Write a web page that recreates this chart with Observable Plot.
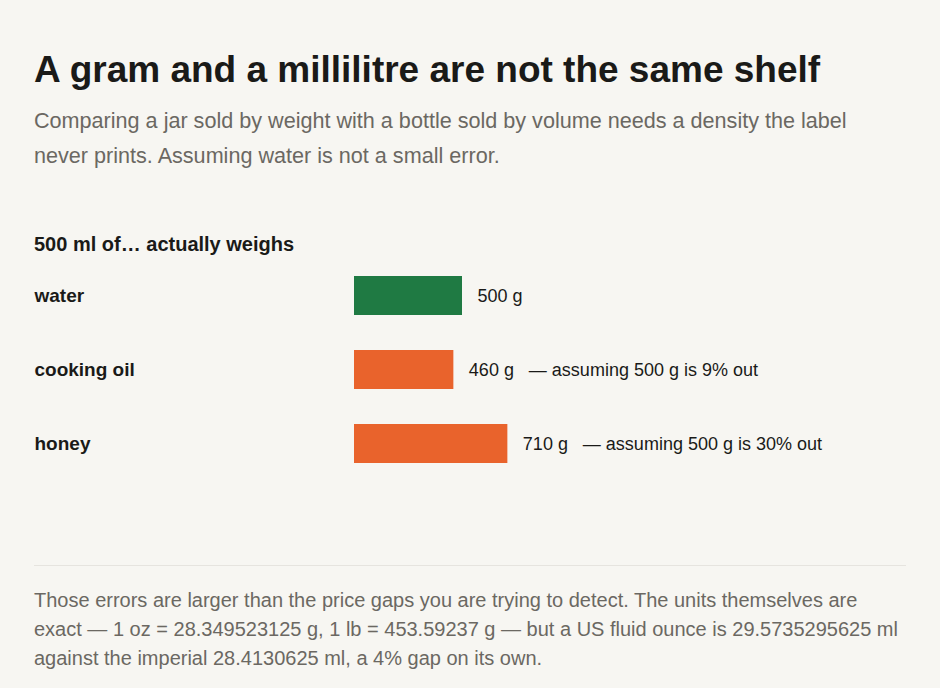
<!DOCTYPE html>
<html>
<head>
<meta charset="utf-8">
<script src="https://cdn.jsdelivr.net/npm/d3@7"></script>
<script src="https://cdn.jsdelivr.net/npm/@observablehq/plot@0.6"></script>
<style>
  html, body { margin: 0; padding: 0; background: #f7f6f2; }
  body { font-family: "Liberation Sans", Arial, Helvetica, sans-serif; width: 940px; height: 688px; overflow: hidden; }
  .wrap { position: relative; padding: 48px 34px 0 34px; width: 872px; }
  h1 { margin: 0; font-size: 37px; line-height: 44px; font-weight: bold; color: #1a1a18; }
  .sub { margin: 11px 0 0 0; font-size: 21.6px; line-height: 35px; color: #6b6862; }
  .head { margin: 59px 0 0 0; font-size: 20px; line-height: 24px; font-weight: bold; color: #1a1a18; }
  #chart { margin-top: 0; height: 290px; }
  #chart svg { display: block; overflow: visible; }
  hr { border: 0; border-top: 1px solid #e6e4df; margin: 19px 0 0 0; height: 0; }
  .foot { margin: 20px 0 0 0; font-size: 20px; line-height: 29px; color: #6b6862; }
</style>
</head>
<body>
<div class="wrap">
  <h1>A gram and a millilitre are not the same shelf</h1>
  <p class="sub">Comparing a jar sold by weight with a bottle sold by volume needs a density the label never prints. Assuming water is not a small error.</p>
  <div class="head">500 ml of… actually weighs</div>
  <div id="chart"></div>
  <hr>
  <p class="foot">Those errors are larger than the price gaps you are trying to detect. The units themselves are exact — 1 oz = 28.349523125 g, 1 lb = 453.59237 g — but a US fluid ounce is 29.5735295625 ml against the imperial 28.4130625 ml, a 4% gap on its own.</p>
</div>
<script>
const liquids = ["water", "cooking oil", "honey"];
const grams = [500, 460, 710];
const errorPct = [null, 9, 30];
const isReference = [true, false, false];

const rows = liquids.map((name, i) => ({
  name,
  grams: grams[i],
  err: errorPct[i],
  kind: isReference[i] ? "ref" : "other"
}));

const chart = Plot.plot({
  width: 872,
  height: 290,
  marginLeft: 320,
  marginRight: 0,
  marginTop: 0,
  marginBottom: 0,
  style: { background: "transparent", fontFamily: '"Liberation Sans", Arial, sans-serif', overflow: "visible" },
  x: { domain: [0, 1000], range: [320, 536], axis: null },
  y: { type: "band", domain: liquids, range: [5.5, 222.1], padding: 0.473, paddingOuter: 0.2, label: null },
  color: { domain: ["ref", "other"], range: ["#1f7a43", "#e9632c"] },
  marks: [
    Plot.axisY({ tickSize: 0, tickPadding: 0, dx: -320, textAnchor: "start", fontSize: 19, fontWeight: "bold", fill: "#1a1a18", label: null }),
    Plot.barX(rows, { x: "grams", y: "name", fill: "kind" }),
    Plot.text(rows, { x: "grams", y: "name", text: d => `${d.grams} g`, dx: 15, textAnchor: "start", fontSize: 18, fill: "#1a1a18" }),
    Plot.text(rows.filter(d => d.err != null), { x: "grams", y: "name", text: d => `— assuming 500 g is ${d.err}% out`, dx: 75, textAnchor: "start", fontSize: 18, fill: "#1a1a18" })
  ]
});
document.getElementById("chart").appendChild(chart);
</script>
</body>
</html>
